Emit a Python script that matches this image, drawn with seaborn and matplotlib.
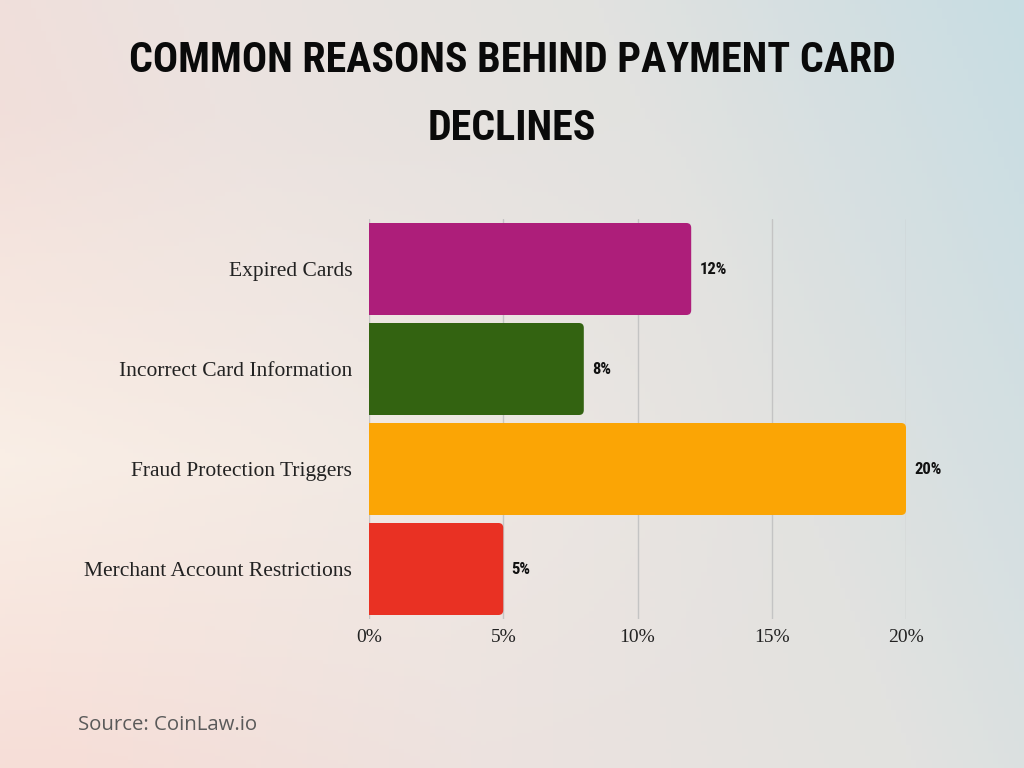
import numpy as np
import pandas as pd
import matplotlib
matplotlib.use("Agg")
import matplotlib.pyplot as plt
import seaborn as sns
from matplotlib.colors import LinearSegmentedColormap
from matplotlib.patches import FancyBboxPatch

reasons = [
    "Expired Cards",
    "Incorrect Card Information",
    "Fraud Protection Triggers",
    "Merchant Account Restrictions",
]
shares = [12, 8, 20, 5]
bar_colors = ["#ad1e7a", "#336311", "#fba505", "#e93123"]
x_ticks = [0, 5, 10, 15, 20]

df = pd.DataFrame({"reason": reasons, "share": shares})

sns.set_style("white")
fig = plt.figure(figsize=(10.24, 7.68), dpi=100)
narrow = ["Roboto Condensed", "DejaVu Sans"]

# soft diagonal background
bg = fig.add_axes([0, 0, 1, 1], zorder=-10)
yy, xx = np.mgrid[0:1:200j, 0:1:200j]
t = np.clip(0.8 * xx + 0.25 * (1 - yy) - 0.05, 0, 1)
warm = np.clip(1 - np.abs(yy - 0.6) * 2.2, 0, 1) * np.clip(1 - 1.3 * xx, 0, 1)
cmap = LinearSegmentedColormap.from_list(
    "bg", ["#f6dcd6", "#ece2df", "#e2e2e0", "#c8dde3"]
)
img = cmap(t)[..., :3]
cream = np.array([0.985, 0.965, 0.925])
img = img * (1 - 0.7 * warm[..., None]) + cream * 0.7 * warm[..., None]
bg.imshow(img, extent=[0, 1, 0, 1], aspect="auto", origin="upper")
bg.axis("off")

ax = fig.add_axes([369 / 1024, 1 - 619 / 768, 537 / 1024, 400 / 768])
ax.patch.set_alpha(0)
sns.barplot(data=df, x="share", y="reason", hue="reason", palette=bar_colors,
            saturation=1, legend=False, width=0.92, ax=ax, zorder=3)

# rounded bar ends
r = 0.18
for p in list(ax.patches):
    x0, y0 = p.get_x(), p.get_y()
    w, h = p.get_width(), p.get_height()
    fb = FancyBboxPatch((x0 - r, y0), w + r, h,
                        boxstyle=f"round,pad=0,rounding_size={r}",
                        mutation_aspect=0.27, facecolor=p.get_facecolor(),
                        edgecolor="none", zorder=3, clip_on=True)
    p.remove()
    ax.add_patch(fb)

ax.set_xlim(0, 20)
ax.set_ylim(3.5, -0.5)
ax.set_xticks(x_ticks)
ax.set_xticklabels([f"{v}%" for v in x_ticks], family="Liberation Serif",
                   fontsize=14, color="#222222")
ax.set_yticks(range(len(reasons)))
ax.set_yticklabels(reasons, family="Liberation Serif", fontsize=15.5,
                   color="#222222")
ax.tick_params(axis="y", length=0, pad=12)
ax.tick_params(axis="x", length=0, pad=7)
ax.set_xlabel("")
ax.set_ylabel("")
ax.xaxis.grid(True, color="#c4c4c4", linewidth=1, zorder=0)
for s in ax.spines.values():
    s.set_visible(False)

for i, v in enumerate(shares):
    ax.text(v + 0.3, i, f"{v}%", va="center", ha="left", fontsize=12,
            fontweight="bold", family=narrow, color="#111111")

renderer = fig.canvas.get_renderer()


def fit_width(txt, target_px):
    w = txt.get_window_extent(renderer).width
    txt.set_fontsize(txt.get_fontsize() * target_px / w)


t1 = fig.text(0.5, 1 - 61 / 768, "COMMON REASONS BEHIND PAYMENT CARD",
              ha="center", va="center", fontsize=34, fontweight="bold",
              family=narrow, color="#0a0a0a")
fit_width(t1, 769)
t2 = fig.text(0.5, 1 - 128 / 768, "DECLINES", ha="center", va="center",
              fontsize=t1.get_fontsize(), fontweight="bold", family=narrow,
              color="#0a0a0a")

src = fig.text(78 / 1024, 1 - 725 / 768, "Source: CoinLaw.io", ha="left",
               va="center", fontsize=14, family=["Open Sans", "DejaVu Sans"],
               color="#5a5a5a")
fit_width(src, 180)

fig.savefig("out.png", dpi=100)
